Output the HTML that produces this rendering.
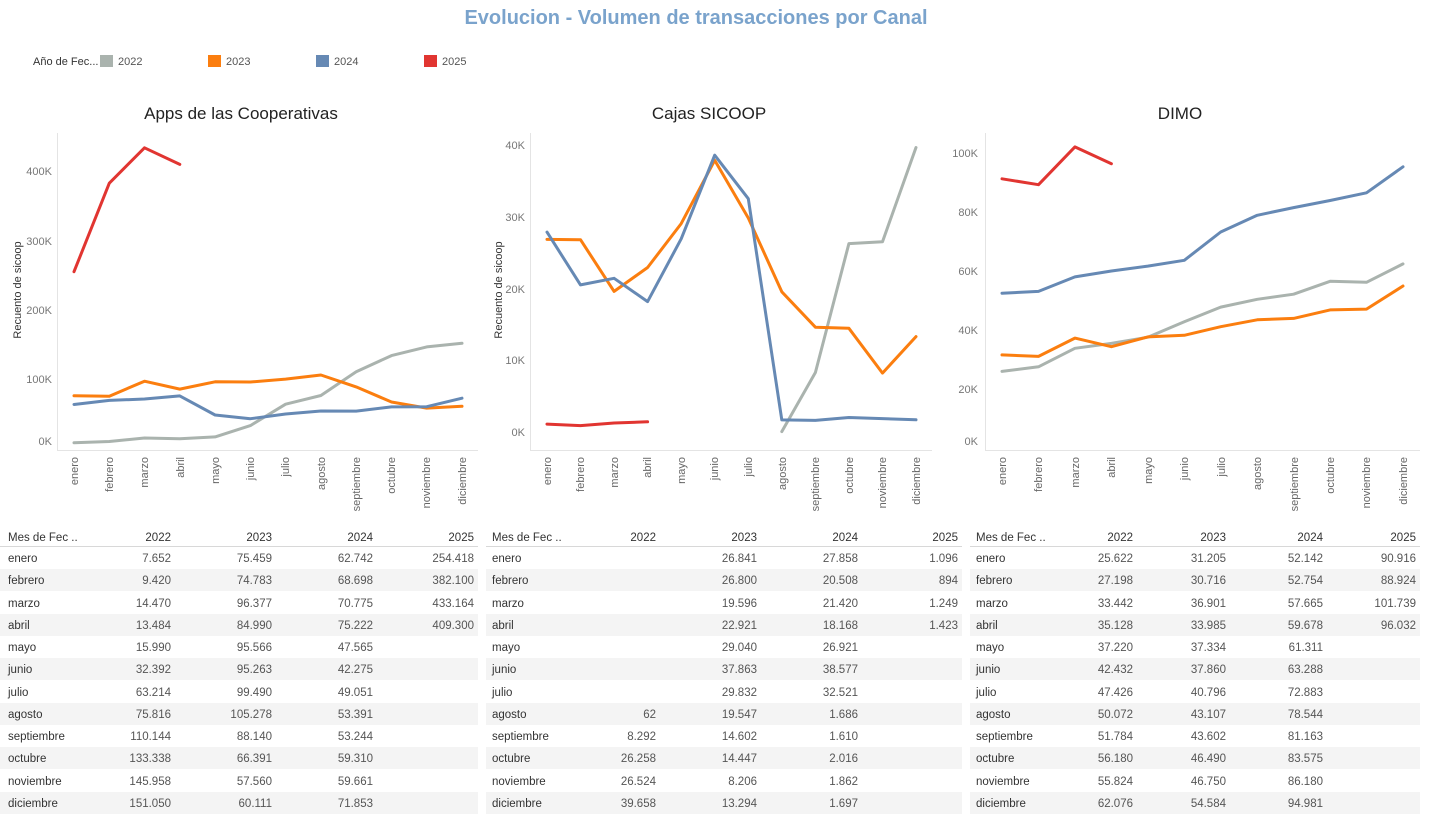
<!DOCTYPE html>
<html><head><meta charset="utf-8"><style>
body{margin:0;background:#fff;}
svg{display:block;font-family:"Liberation Sans",sans-serif;}
.t{font-size:11.5px;fill:#333}
.n{font-size:11.5px;fill:#555;text-anchor:end}
.ax{font-size:11px;fill:#777}
.m{font-size:11px;fill:#666;text-anchor:end}
.l{fill:none;stroke-width:3;stroke-linejoin:round;stroke-linecap:round}
</style></head><body>
<svg width="1432" height="824" viewBox="0 0 1432 824">
<text x="696" y="24" text-anchor="middle" style="font-size:20px;font-weight:bold;fill:#7aa3cc">Evolucion - Volumen de transacciones por Canal</text>
<text x="33" y="65" style="font-size:11px;fill:#333">Año de Fec...</text>
<rect x="100" y="55" width="13" height="12" fill="#aab3ae"/><text x="118" y="65" style="font-size:11px;fill:#555">2022</text>
<rect x="208" y="55" width="13" height="12" fill="#fb7e0f"/><text x="226" y="65" style="font-size:11px;fill:#555">2023</text>
<rect x="316" y="55" width="13" height="12" fill="#6689b4"/><text x="334" y="65" style="font-size:11px;fill:#555">2024</text>
<rect x="424" y="55" width="13" height="12" fill="#e13531"/><text x="442" y="65" style="font-size:11px;fill:#555">2025</text>

<text x="241" y="119" text-anchor="middle" style="font-size:17px;fill:#222">Apps de las Cooperativas</text>
<text x="709" y="119" text-anchor="middle" style="font-size:17px;fill:#222">Cajas SICOOP</text>
<text x="1180" y="119" text-anchor="middle" style="font-size:17px;fill:#222">DIMO</text>

<g stroke="#e4e4e4" stroke-width="1">
<line x1="57.5" y1="133" x2="57.5" y2="450"/><line x1="57" y1="450.5" x2="478" y2="450.5"/>
<line x1="530.5" y1="133" x2="530.5" y2="450"/><line x1="530" y1="450.5" x2="932" y2="450.5"/>
<line x1="985.5" y1="133" x2="985.5" y2="450"/><line x1="985" y1="450.5" x2="1420" y2="450.5"/>
</g>
<text transform="translate(21,290) rotate(-90)" text-anchor="middle" style="font-size:11px;fill:#333">Recuento de sicoop</text>
<text transform="translate(502,290) rotate(-90)" text-anchor="middle" style="font-size:11px;fill:#333">Recuento de sicoop</text>
<g class="ax" text-anchor="end">
<text x="52" y="175">400K</text><text x="52" y="245">300K</text><text x="52" y="314">200K</text><text x="52" y="383">100K</text><text x="52" y="445">0K</text>
<text x="525" y="149">40K</text><text x="525" y="221">30K</text><text x="525" y="293">20K</text><text x="525" y="364">10K</text><text x="525" y="436">0K</text>
<text x="978" y="157">100K</text><text x="978" y="216">80K</text><text x="978" y="275">60K</text><text x="978" y="334">40K</text><text x="978" y="393">20K</text><text x="978" y="445">0K</text>
</g>
<g class="m">
<text transform="translate(78,457) rotate(-90)">enero</text><text transform="translate(113,457) rotate(-90)">febrero</text><text transform="translate(148,457) rotate(-90)">marzo</text><text transform="translate(184,457) rotate(-90)">abril</text><text transform="translate(219,457) rotate(-90)">mayo</text><text transform="translate(254,457) rotate(-90)">junio</text><text transform="translate(289,457) rotate(-90)">julio</text><text transform="translate(325,457) rotate(-90)">agosto</text><text transform="translate(360,457) rotate(-90)">septiembre</text><text transform="translate(395,457) rotate(-90)">octubre</text><text transform="translate(430,457) rotate(-90)">noviembre</text><text transform="translate(466,457) rotate(-90)">diciembre</text>
<text transform="translate(551,457) rotate(-90)">enero</text><text transform="translate(584,457) rotate(-90)">febrero</text><text transform="translate(618,457) rotate(-90)">marzo</text><text transform="translate(651,457) rotate(-90)">abril</text><text transform="translate(685,457) rotate(-90)">mayo</text><text transform="translate(718,457) rotate(-90)">junio</text><text transform="translate(752,457) rotate(-90)">julio</text><text transform="translate(786,457) rotate(-90)">agosto</text><text transform="translate(819,457) rotate(-90)">septiembre</text><text transform="translate(853,457) rotate(-90)">octubre</text><text transform="translate(886,457) rotate(-90)">noviembre</text><text transform="translate(920,457) rotate(-90)">diciembre</text>
<text transform="translate(1006,457) rotate(-90)">enero</text><text transform="translate(1042,457) rotate(-90)">febrero</text><text transform="translate(1079,457) rotate(-90)">marzo</text><text transform="translate(1115,457) rotate(-90)">abril</text><text transform="translate(1152,457) rotate(-90)">mayo</text><text transform="translate(1188,457) rotate(-90)">junio</text><text transform="translate(1225,457) rotate(-90)">julio</text><text transform="translate(1261,457) rotate(-90)">agosto</text><text transform="translate(1298,457) rotate(-90)">septiembre</text><text transform="translate(1334,457) rotate(-90)">octubre</text><text transform="translate(1370,457) rotate(-90)">noviembre</text><text transform="translate(1407,457) rotate(-90)">diciembre</text>
</g>

<polyline class="l" stroke="#aab3ae" points="74,442.7 109.3,441.5 144.5,438 179.8,438.7 215.1,436.9 250.4,425.6 285.6,404.2 320.9,395.5 356.2,371.7 391.5,355.6 426.7,346.9 462,343.3"/>
<polyline class="l" stroke="#fb7e0f" points="74,395.7 109.3,396.2 144.5,381.2 179.8,389.1 215.1,381.8 250.4,382 285.6,379.1 320.9,375 356.2,386.9 391.5,402 426.7,408.1 462,406.3"/>
<polyline class="l" stroke="#6689b4" points="74,404.5 109.3,400.4 144.5,399 179.8,395.9 215.1,415 250.4,418.7 285.6,414 320.9,411 356.2,411.1 391.5,406.9 426.7,406.7 462,398.2"/>
<polyline class="l" stroke="#e13531" points="74,271.7 109.3,183.2 144.5,147.8 179.8,164.4"/>

<polyline class="l" stroke="#aab3ae" points="781.8,431.6 815.4,372.5 848.9,243.6 882.5,241.7 916,147.5"/>
<polyline class="l" stroke="#fb7e0f" points="547,239.4 580.5,239.7 614.1,291.4 647.6,267.5 681.2,223.6 714.7,160.3 748.3,218 781.8,291.8 815.4,327.2 848.9,328.3 882.5,373.1 916,336.6"/>
<polyline class="l" stroke="#6689b4" points="547,232.1 580.5,284.9 614.1,278.3 647.6,301.6 681.2,238.8 714.7,155.2 748.3,198.7 781.8,419.9 815.4,420.4 848.9,417.5 882.5,418.6 916,419.8"/>
<polyline class="l" stroke="#e13531" points="547,424.1 580.5,425.6 614.1,423 647.6,421.8"/>

<polyline class="l" stroke="#aab3ae" points="1002,371.4 1038.5,366.8 1074.9,348.3 1111.4,343.4 1147.8,337.2 1184.3,321.8 1220.7,307.1 1257.2,299.3 1293.6,294.2 1330.1,281.3 1366.5,282.3 1403,263.9"/>
<polyline class="l" stroke="#fb7e0f" points="1002,354.9 1038.5,356.4 1074.9,338.1 1111.4,346.7 1147.8,336.9 1184.3,335.3 1220.7,326.7 1257.2,319.8 1293.6,318.4 1330.1,309.9 1366.5,309.1 1403,286"/>
<polyline class="l" stroke="#6689b4" points="1002,293.2 1038.5,291.4 1074.9,276.9 1111.4,271 1147.8,266.1 1184.3,260.3 1220.7,232 1257.2,215.3 1293.6,207.6 1330.1,200.5 1366.5,192.8 1403,166.8"/>
<polyline class="l" stroke="#e13531" points="1002,178.8 1038.5,184.7 1074.9,146.9 1111.4,163.7"/>

<g fill="#f4f4f4">
<rect x="0" y="569" width="478" height="22"/><rect x="0" y="614" width="478" height="22"/><rect x="0" y="658" width="478" height="22"/><rect x="0" y="703" width="478" height="22"/><rect x="0" y="747" width="478" height="22"/><rect x="0" y="792" width="478" height="22"/>
<rect x="486" y="569" width="476" height="22"/><rect x="486" y="614" width="476" height="22"/><rect x="486" y="658" width="476" height="22"/><rect x="486" y="703" width="476" height="22"/><rect x="486" y="747" width="476" height="22"/><rect x="486" y="792" width="476" height="22"/>
<rect x="970" y="569" width="450" height="22"/><rect x="970" y="614" width="450" height="22"/><rect x="970" y="658" width="450" height="22"/><rect x="970" y="703" width="450" height="22"/><rect x="970" y="747" width="450" height="22"/><rect x="970" y="792" width="450" height="22"/>
</g>
<g stroke="#d8d8d8"><line x1="0" y1="546.5" x2="478" y2="546.5"/><line x1="486" y1="546.5" x2="962" y2="546.5"/><line x1="970" y1="546.5" x2="1420" y2="546.5"/></g>

<g>
<text class="t" x="8" y="541">Mes de Fec ..</text><text class="n" x="171" y="541" style="fill:#333">2022</text><text class="n" x="272" y="541" style="fill:#333">2023</text><text class="n" x="373" y="541" style="fill:#333">2024</text><text class="n" x="474" y="541" style="fill:#333">2025</text>
<text class="t" x="8" y="562">enero</text><text class="n" x="171" y="562">7.652</text><text class="n" x="272" y="562">75.459</text><text class="n" x="373" y="562">62.742</text><text class="n" x="474" y="562">254.418</text>
<text class="t" x="8" y="584">febrero</text><text class="n" x="171" y="584">9.420</text><text class="n" x="272" y="584">74.783</text><text class="n" x="373" y="584">68.698</text><text class="n" x="474" y="584">382.100</text>
<text class="t" x="8" y="607">marzo</text><text class="n" x="171" y="607">14.470</text><text class="n" x="272" y="607">96.377</text><text class="n" x="373" y="607">70.775</text><text class="n" x="474" y="607">433.164</text>
<text class="t" x="8" y="629">abril</text><text class="n" x="171" y="629">13.484</text><text class="n" x="272" y="629">84.990</text><text class="n" x="373" y="629">75.222</text><text class="n" x="474" y="629">409.300</text>
<text class="t" x="8" y="651">mayo</text><text class="n" x="171" y="651">15.990</text><text class="n" x="272" y="651">95.566</text><text class="n" x="373" y="651">47.565</text>
<text class="t" x="8" y="673">junio</text><text class="n" x="171" y="673">32.392</text><text class="n" x="272" y="673">95.263</text><text class="n" x="373" y="673">42.275</text>
<text class="t" x="8" y="696">julio</text><text class="n" x="171" y="696">63.214</text><text class="n" x="272" y="696">99.490</text><text class="n" x="373" y="696">49.051</text>
<text class="t" x="8" y="718">agosto</text><text class="n" x="171" y="718">75.816</text><text class="n" x="272" y="718">105.278</text><text class="n" x="373" y="718">53.391</text>
<text class="t" x="8" y="740">septiembre</text><text class="n" x="171" y="740">110.144</text><text class="n" x="272" y="740">88.140</text><text class="n" x="373" y="740">53.244</text>
<text class="t" x="8" y="762">octubre</text><text class="n" x="171" y="762">133.338</text><text class="n" x="272" y="762">66.391</text><text class="n" x="373" y="762">59.310</text>
<text class="t" x="8" y="785">noviembre</text><text class="n" x="171" y="785">145.958</text><text class="n" x="272" y="785">57.560</text><text class="n" x="373" y="785">59.661</text>
<text class="t" x="8" y="807">diciembre</text><text class="n" x="171" y="807">151.050</text><text class="n" x="272" y="807">60.111</text><text class="n" x="373" y="807">71.853</text>
</g>
<g>
<text class="t" x="492" y="541">Mes de Fec ..</text><text class="n" x="656" y="541" style="fill:#333">2022</text><text class="n" x="757" y="541" style="fill:#333">2023</text><text class="n" x="858" y="541" style="fill:#333">2024</text><text class="n" x="958" y="541" style="fill:#333">2025</text>
<text class="t" x="492" y="562">enero</text><text class="n" x="757" y="562">26.841</text><text class="n" x="858" y="562">27.858</text><text class="n" x="958" y="562">1.096</text>
<text class="t" x="492" y="584">febrero</text><text class="n" x="757" y="584">26.800</text><text class="n" x="858" y="584">20.508</text><text class="n" x="958" y="584">894</text>
<text class="t" x="492" y="607">marzo</text><text class="n" x="757" y="607">19.596</text><text class="n" x="858" y="607">21.420</text><text class="n" x="958" y="607">1.249</text>
<text class="t" x="492" y="629">abril</text><text class="n" x="757" y="629">22.921</text><text class="n" x="858" y="629">18.168</text><text class="n" x="958" y="629">1.423</text>
<text class="t" x="492" y="651">mayo</text><text class="n" x="757" y="651">29.040</text><text class="n" x="858" y="651">26.921</text>
<text class="t" x="492" y="673">junio</text><text class="n" x="757" y="673">37.863</text><text class="n" x="858" y="673">38.577</text>
<text class="t" x="492" y="696">julio</text><text class="n" x="757" y="696">29.832</text><text class="n" x="858" y="696">32.521</text>
<text class="t" x="492" y="718">agosto</text><text class="n" x="656" y="718">62</text><text class="n" x="757" y="718">19.547</text><text class="n" x="858" y="718">1.686</text>
<text class="t" x="492" y="740">septiembre</text><text class="n" x="656" y="740">8.292</text><text class="n" x="757" y="740">14.602</text><text class="n" x="858" y="740">1.610</text>
<text class="t" x="492" y="762">octubre</text><text class="n" x="656" y="762">26.258</text><text class="n" x="757" y="762">14.447</text><text class="n" x="858" y="762">2.016</text>
<text class="t" x="492" y="785">noviembre</text><text class="n" x="656" y="785">26.524</text><text class="n" x="757" y="785">8.206</text><text class="n" x="858" y="785">1.862</text>
<text class="t" x="492" y="807">diciembre</text><text class="n" x="656" y="807">39.658</text><text class="n" x="757" y="807">13.294</text><text class="n" x="858" y="807">1.697</text>
</g>
<g>
<text class="t" x="976" y="541">Mes de Fec ..</text><text class="n" x="1133" y="541" style="fill:#333">2022</text><text class="n" x="1226" y="541" style="fill:#333">2023</text><text class="n" x="1323" y="541" style="fill:#333">2024</text><text class="n" x="1416" y="541" style="fill:#333">2025</text>
<text class="t" x="976" y="562">enero</text><text class="n" x="1133" y="562">25.622</text><text class="n" x="1226" y="562">31.205</text><text class="n" x="1323" y="562">52.142</text><text class="n" x="1416" y="562">90.916</text>
<text class="t" x="976" y="584">febrero</text><text class="n" x="1133" y="584">27.198</text><text class="n" x="1226" y="584">30.716</text><text class="n" x="1323" y="584">52.754</text><text class="n" x="1416" y="584">88.924</text>
<text class="t" x="976" y="607">marzo</text><text class="n" x="1133" y="607">33.442</text><text class="n" x="1226" y="607">36.901</text><text class="n" x="1323" y="607">57.665</text><text class="n" x="1416" y="607">101.739</text>
<text class="t" x="976" y="629">abril</text><text class="n" x="1133" y="629">35.128</text><text class="n" x="1226" y="629">33.985</text><text class="n" x="1323" y="629">59.678</text><text class="n" x="1416" y="629">96.032</text>
<text class="t" x="976" y="651">mayo</text><text class="n" x="1133" y="651">37.220</text><text class="n" x="1226" y="651">37.334</text><text class="n" x="1323" y="651">61.311</text>
<text class="t" x="976" y="673">junio</text><text class="n" x="1133" y="673">42.432</text><text class="n" x="1226" y="673">37.860</text><text class="n" x="1323" y="673">63.288</text>
<text class="t" x="976" y="696">julio</text><text class="n" x="1133" y="696">47.426</text><text class="n" x="1226" y="696">40.796</text><text class="n" x="1323" y="696">72.883</text>
<text class="t" x="976" y="718">agosto</text><text class="n" x="1133" y="718">50.072</text><text class="n" x="1226" y="718">43.107</text><text class="n" x="1323" y="718">78.544</text>
<text class="t" x="976" y="740">septiembre</text><text class="n" x="1133" y="740">51.784</text><text class="n" x="1226" y="740">43.602</text><text class="n" x="1323" y="740">81.163</text>
<text class="t" x="976" y="762">octubre</text><text class="n" x="1133" y="762">56.180</text><text class="n" x="1226" y="762">46.490</text><text class="n" x="1323" y="762">83.575</text>
<text class="t" x="976" y="785">noviembre</text><text class="n" x="1133" y="785">55.824</text><text class="n" x="1226" y="785">46.750</text><text class="n" x="1323" y="785">86.180</text>
<text class="t" x="976" y="807">diciembre</text><text class="n" x="1133" y="807">62.076</text><text class="n" x="1226" y="807">54.584</text><text class="n" x="1323" y="807">94.981</text>
</g>
</svg>
</body></html>
